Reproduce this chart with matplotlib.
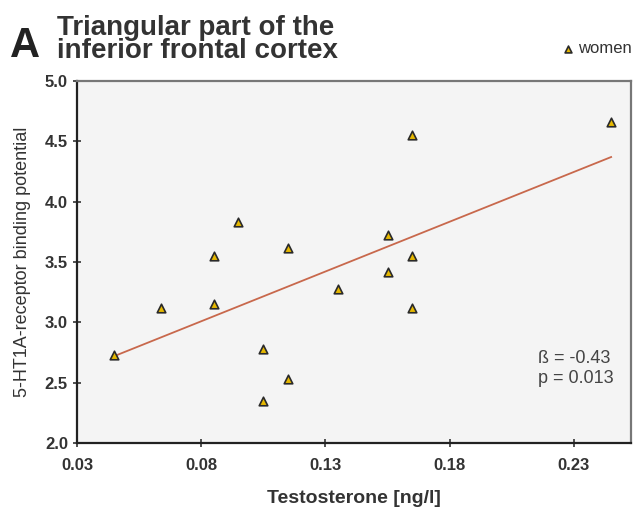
import matplotlib.pyplot as plt
import numpy as np

plt.rcParams['font.family'] = ['Liberation Sans', 'DejaVu Sans']

# testosterone [ng/l] vs 5-HT1A binding potential, women
testosterone = [0.045, 0.064, 0.085, 0.085, 0.095, 0.105, 0.105, 0.115,
                0.115, 0.135, 0.155, 0.155, 0.165, 0.165, 0.165, 0.245]
binding = [2.73, 3.12, 3.15, 3.55, 3.83, 2.78, 2.35, 3.62,
           2.53, 3.28, 3.72, 3.42, 4.55, 3.55, 3.12, 4.66]

fit_x = [0.045, 0.245]
fit_y = [2.72, 4.37]

xticks = [0.03, 0.08, 0.13, 0.18, 0.23]
yticks = [2.0, 2.5, 3.0, 3.5, 4.0, 4.5, 5.0]

fig = plt.figure(figsize=(6.44, 5.07), dpi=100)
ax = fig.add_axes([77 / 644, 1 - 443 / 507, (631 - 77) / 644, (443 - 81) / 507])
ax.set_facecolor('#f4f4f4')

ax.plot(fit_x, fit_y, color='#c8684c', lw=1.3, zorder=2)
ax.scatter(testosterone, binding, marker='^', s=38, facecolor='#e6b800',
           edgecolor='#2a2a2a', linewidth=1.2, zorder=3, label='women')

ax.set_xlim(0.03, 0.253)
ax.set_ylim(2.0, 5.0)
ax.set_xticks(xticks)
ax.set_xticklabels(['%.2f' % t for t in xticks])
ax.set_yticks(yticks)
ax.set_yticklabels(['%.1f' % t for t in yticks])
for lab in ax.get_xticklabels() + ax.get_yticklabels():
    lab.set_fontweight('bold')
    lab.set_color('#333333')
ax.tick_params(direction='inout', length=6, width=1.2, labelsize=12, color='#333333')
ax.tick_params(axis='x', pad=8)

for side in ['left', 'bottom']:
    ax.spines[side].set_linewidth(1.6)
    ax.spines[side].set_color('#222222')
for side in ['top', 'right']:
    ax.spines[side].set_linewidth(1.6)
    ax.spines[side].set_color('#777777')

ax.set_xlabel('Testosterone [ng/l]', fontsize=14, fontweight='bold', color='#333333', labelpad=12)
ax.set_ylabel('5-HT1A-receptor binding potential', fontsize=13, color='#333333', labelpad=10)

ax.text(0.833, 0.205, 'ß = -0.43\np = 0.013', transform=ax.transAxes,
        fontsize=13, color='#444444', va='center', ha='left', linespacing=1.25)

fig.text(0.015, 0.91, 'A', fontsize=30, fontweight='bold', color='#222222', va='center')
fig.text(0.088, 0.922, 'Triangular part of the\ninferior frontal cortex', fontsize=20,
         fontweight='bold', color='#333333', va='center', linespacing=0.86)

ax.legend(loc='center left', bbox_to_anchor=(0.86, 1.09), frameon=False, fontsize=12,
          handletextpad=0.1, handlelength=1.0, borderaxespad=0, markerscale=0.8,
          labelcolor='#333333')

fig.savefig('out.png', dpi=100)
